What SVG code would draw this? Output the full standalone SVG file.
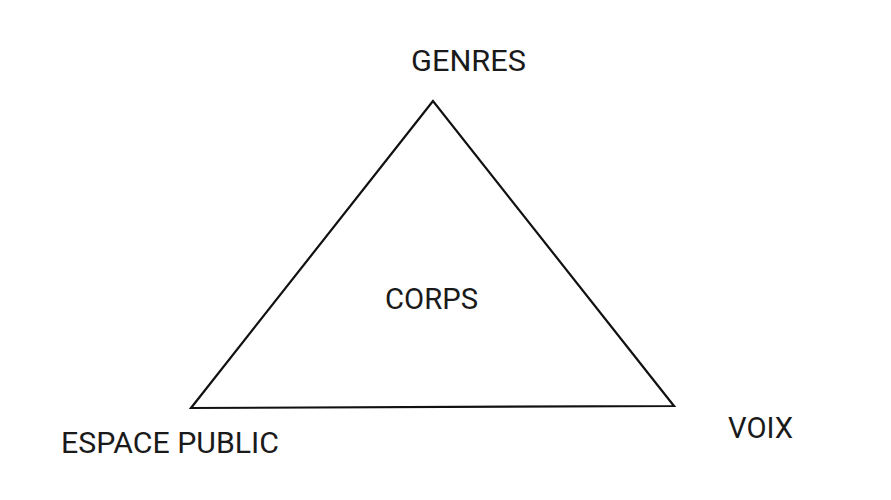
<svg xmlns="http://www.w3.org/2000/svg" width="891" height="500" viewBox="0 0 891 500">
<style>
.lbl{font-family:Roboto,"DejaVu Sans",sans-serif;font-size:29px;fill:#1a1a1a}
.edge{fill:none;stroke:#111;stroke-width:2.2;stroke-linejoin:miter}
</style>
<rect width="891" height="500" fill="#fff"/>
<g id="connectors">
<polygon class="edge" points="433,101 191,408 674,406"/>
</g>
<g id="node-genres"><text class="lbl" x="411" y="71" textLength="115" lengthAdjust="spacingAndGlyphs">GENRES</text></g>
<g id="node-corps"><text class="lbl" x="385" y="309" textLength="93" lengthAdjust="spacingAndGlyphs">CORPS</text></g>
<g id="node-espace"><text class="lbl" x="61" y="453" textLength="218" lengthAdjust="spacingAndGlyphs">ESPACE PUBLIC</text></g>
<g id="node-voix"><text class="lbl" x="728" y="438" textLength="65" lengthAdjust="spacingAndGlyphs">VOIX</text></g>
</svg>
